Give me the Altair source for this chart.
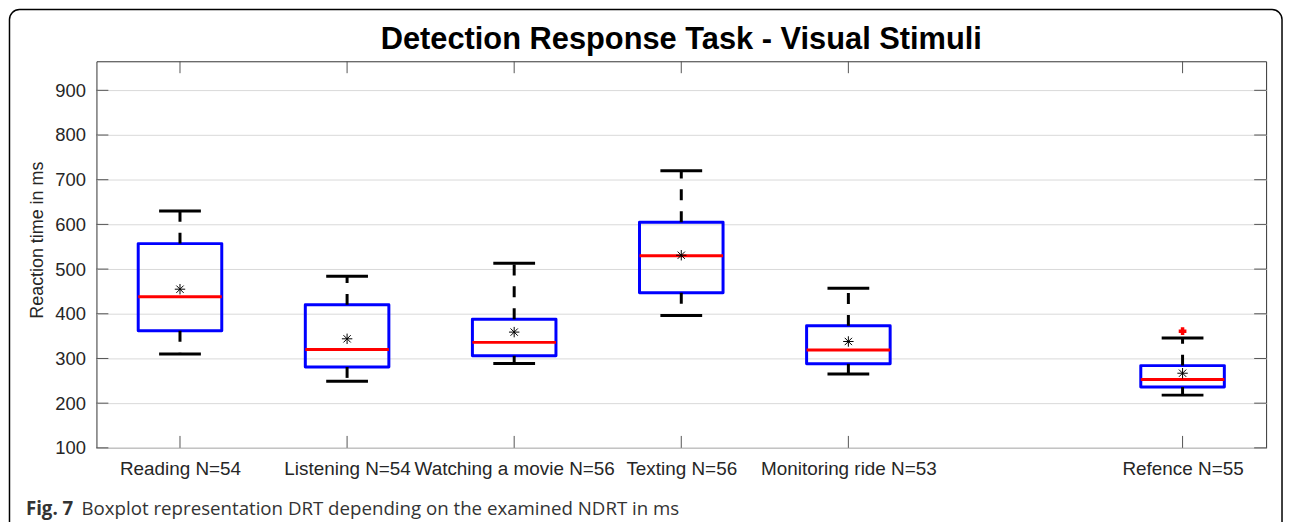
import altair as alt
import pandas as pd

# ---- data ----
positions = [1, 2, 3, 4, 5, 7]
labels = ["Reading N=54", "Listening N=54", "Watching a movie N=56",
          "Texting N=56", "Monitoring ride N=53", "Refence N=55"]
lower_whisker = [310, 249, 289, 396, 265, 218]
q1 = [362, 281, 306, 447, 288, 236]
median = [438, 320, 336, 530, 319, 253]
q3 = [557, 420, 388, 605, 373, 284]
upper_whisker = [630, 484, 513, 720, 457, 346]
means = [455, 344, 359, 531, 338, 267]
outlier_pos = [7]
outlier_val = [361]
y_ticks = [100, 200, 300, 400, 500, 600, 700, 800, 900]

title_text = "Detection Response Task - Visual Stimuli"
y_title = "Reaction time in ms"
caption_bold = "Fig. 7"
caption_rest = "Boxplot representation DRT depending on the examined NDRT in ms"

# ---- layout ----
W, H = 1177, 389
BOX_HALF = 0.25
CAP_HALF = 0.125
FONT = "Liberation Sans"
TXT = "#262626"

df = pd.DataFrame({"pos": positions, "label": labels, "lw": lower_whisker,
                   "q1": q1, "med": median, "q3": q3, "uw": upper_whisker,
                   "mean": means})
df_out = pd.DataFrame({"pos": outlier_pos, "val": outlier_val})
df_xt = pd.DataFrame({"pos": positions})
df_yt = pd.DataFrame({"v": y_ticks})
one = alt.Data(values=[{"a": 1}])

xs = alt.Scale(domain=[0.5, 7.5], nice=False, zero=False)
ys = alt.Scale(domain=[100, 965], nice=False, zero=False)

label_map = "{" + ",".join(f'"{p}":"{l}"' for p, l in zip(positions, labels)) + "}"
x_axis = alt.Axis(values=positions, labelExpr=f"{label_map}[datum.value]",
                  ticks=False, domain=False, grid=False, labelFont=FONT,
                  labelFontSize=19, labelColor=TXT, labelPadding=12, title="",
                  labelLimit=0, labelOverlap=False)
y_axis = alt.Axis(values=y_ticks, ticks=False, domain=False, grid=True,
                  gridColor="#d9d9d9", gridWidth=1, labelFont=FONT,
                  labelFontSize=18.5, labelColor=TXT, labelPadding=11, title="")

base = alt.Chart(df).transform_calculate(
    b1=f"datum.pos - {BOX_HALF}", b2=f"datum.pos + {BOX_HALF}",
    c1=f"datum.pos - {CAP_HALF}", c2=f"datum.pos + {CAP_HALF}")

X = lambda f: alt.X(f, scale=xs, axis=x_axis)
Y = lambda f: alt.Y(f, scale=ys, axis=y_axis)

box = base.mark_rect(fill="transparent", stroke="#0000ff", strokeWidth=3,
                     strokeJoin="round").encode(
    x=X("b1:Q"), x2="b2:Q", y=Y("q1:Q"), y2="q3:Q")

med = base.mark_rule(color="#ff0000", strokeWidth=3).encode(
    x=X("b1:Q"), x2="b2:Q", y=Y("med:Q"))

wh_up = base.mark_rule(color="black", strokeWidth=3, strokeDash=[11, 11]).encode(
    x=X("pos:Q"), y=Y("q3:Q"), y2="uw:Q")
wh_lo = base.mark_rule(color="black", strokeWidth=3, strokeDash=[11, 11]).encode(
    x=X("pos:Q"), y=Y("q1:Q"), y2="lw:Q")
cap_up = base.mark_rule(color="black", strokeWidth=3).encode(
    x=X("c1:Q"), x2="c2:Q", y=Y("uw:Q"))
cap_lo = base.mark_rule(color="black", strokeWidth=3).encode(
    x=X("c1:Q"), x2="c2:Q", y=Y("lw:Q"))

asterisk = "M-1,0L1,0M0,-1L0,1M-0.7,-0.7L0.7,0.7M-0.7,0.7L0.7,-0.7"
mean_pts = base.mark_point(shape=asterisk, stroke="black", strokeWidth=1,
                           size=110, filled=False, opacity=1).encode(
    x=X("pos:Q"), y=Y("mean:Q"))

outl = alt.Chart(df_out).mark_point(shape="M-1,0L1,0M0,-1L0,1", stroke="#ff0000",
                                    strokeWidth=3.5, size=60, filled=False,
                                    opacity=1).encode(
    x=X("pos:Q"), y=Y("val:Q"))

xt_b = alt.Chart(df_xt).mark_rule(color="#555555", strokeWidth=1).encode(
    x=X("pos:Q"), y=alt.value(H), y2=alt.value(H - 12))
xt_t = alt.Chart(df_xt).mark_rule(color="#555555", strokeWidth=1).encode(
    x=X("pos:Q"), y=alt.value(0), y2=alt.value(12))
yt_l = alt.Chart(df_yt).mark_rule(color="#555555", strokeWidth=1).encode(
    y=Y("v:Q"), x=alt.value(0), x2=alt.value(12))
yt_r = alt.Chart(df_yt).mark_rule(color="#555555", strokeWidth=1).encode(
    y=Y("v:Q"), x=alt.value(W), x2=alt.value(W - 12))

title = alt.Chart(one).mark_text(text=title_text, font=FONT, fontSize=31,
                                 fontWeight="bold", color="black", align="center",
                                 baseline="alphabetic").encode(
    x=alt.value(W / 2), y=alt.value(-12))
ytitle = alt.Chart(one).mark_text(text=y_title, font=FONT, fontSize=18,
                                  color=TXT, align="center", angle=270,
                                  baseline="alphabetic").encode(
    x=alt.value(-54), y=alt.value(180))
cap1 = alt.Chart(one).mark_text(text=caption_bold, font="Open Sans", fontSize=18.8,
                                fontWeight="bold", color="#333333", align="left",
                                baseline="alphabetic").encode(
    x=alt.value(-71), y=alt.value(457))
cap2 = alt.Chart(one).mark_text(text=caption_rest, font="Open Sans", fontSize=18.8,
                                color="#333333", align="left",
                                baseline="alphabetic").encode(
    x=alt.value(-15), y=alt.value(457))
frame = alt.Chart(one).mark_rect(fill="transparent", stroke="black", strokeWidth=1.5,
                                 cornerRadius=10).encode(
    x=alt.value(-87.5), x2=alt.value(1193), y=alt.value(-52), y2=alt.value(480))

chart = alt.layer(
    box, yt_l, yt_r, xt_b, xt_t, wh_up, wh_lo, cap_up, cap_lo, med, mean_pts, outl,
    title, ytitle, cap1, cap2, frame
).properties(
    width=W, height=H,
    autosize=alt.AutoSizeParams(type="none"),
    padding={"left": 89, "top": 52, "right": 18, "bottom": 73},
).configure_view(stroke="#333333", strokeWidth=1)

chart.save("out.html", embed_options={"renderer": "svg", "actions": False})
